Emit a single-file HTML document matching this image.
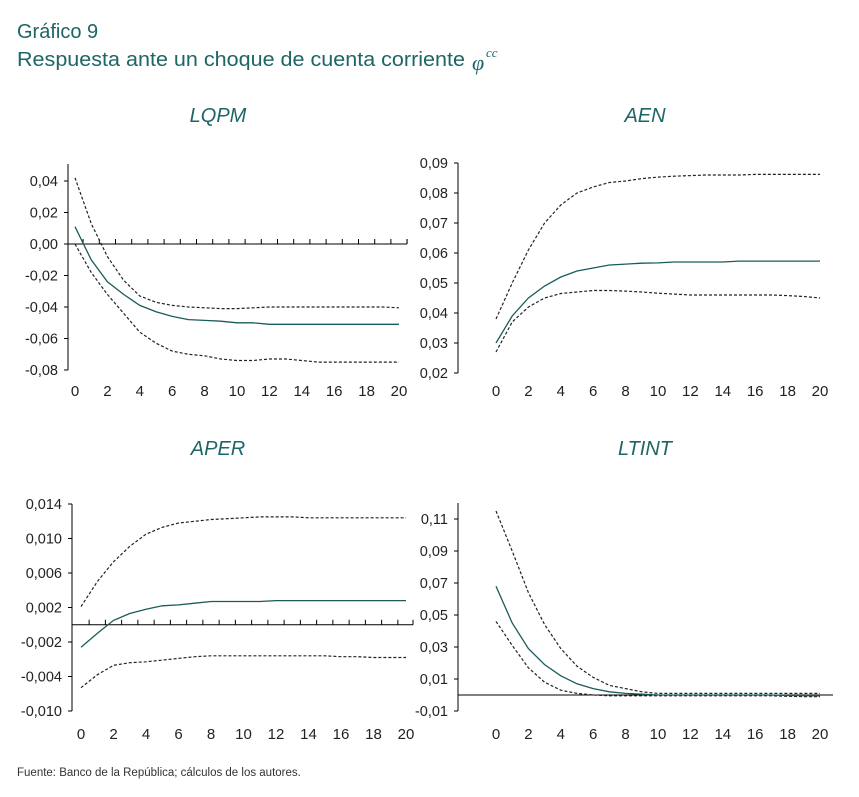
<!DOCTYPE html>
<html><head><meta charset="utf-8"><style>
html,body{margin:0;padding:0;background:#fff;}
svg{display:block;font-family:"Liberation Sans",sans-serif;}
</style></head><body>
<svg id="chart" width="859" height="797" viewBox="0 0 859 797">
<text x="17" y="38" font-size="20" fill="#1e6566">Gráfico 9</text>
<text x="17" y="66" font-size="20" fill="#1e6566" textLength="448" lengthAdjust="spacingAndGlyphs">Respuesta ante un choque de cuenta corriente</text>
<text x="472" y="70" font-size="22" font-style="italic" fill="#1e6566" font-family="Liberation Serif,serif">φ</text>
<text x="486" y="57" font-size="13" font-style="italic" fill="#1e6566" font-family="Liberation Serif,serif">cc</text>
<text x="17" y="776" font-size="11.5" fill="#333">Fuente: Banco de la República; cálculos de los autores.</text>
</svg>
<script>
const xs = [0,1,2,3,4,5,6,7,8,9,10,11,12,13,14,15,16,17,18,19,20];
const xTickLabels = ["0","2","4","6","8","10","12","14","16","18","20"];

const lqpmTicks = ["0,04","0,02","0,00","-0,02","-0,04","-0,06","-0,08"];
const lqpmTickValues = [0.04,0.02,0,-0.02,-0.04,-0.06,-0.08];
const lqpmCenter = [0.011,-0.010,-0.024,-0.032,-0.039,-0.043,-0.046,-0.048,-0.0485,-0.049,-0.050,-0.050,-0.051,-0.051,-0.051,-0.051,-0.051,-0.051,-0.051,-0.051,-0.051];
const lqpmUpper = [0.042,0.013,-0.008,-0.023,-0.033,-0.037,-0.039,-0.040,-0.0405,-0.041,-0.041,-0.0405,-0.040,-0.040,-0.040,-0.040,-0.040,-0.040,-0.040,-0.040,-0.0405];
const lqpmLower = [0.000,-0.018,-0.032,-0.044,-0.056,-0.063,-0.068,-0.070,-0.071,-0.073,-0.074,-0.074,-0.073,-0.073,-0.074,-0.075,-0.075,-0.075,-0.075,-0.075,-0.075];

const aenTicks = ["0,09","0,08","0,07","0,06","0,05","0,04","0,03","0,02"];
const aenTickValues = [0.09,0.08,0.07,0.06,0.05,0.04,0.03,0.02];
const aenCenter = [0.030,0.039,0.045,0.049,0.052,0.054,0.055,0.056,0.0563,0.0566,0.0567,0.057,0.057,0.057,0.057,0.0573,0.0573,0.0573,0.0573,0.0573,0.0573];
const aenUpper = [0.038,0.050,0.061,0.070,0.076,0.080,0.082,0.0835,0.084,0.0848,0.0853,0.0856,0.0858,0.086,0.086,0.086,0.0862,0.0862,0.0862,0.0862,0.0862];
const aenLower = [0.027,0.037,0.042,0.045,0.0465,0.047,0.0475,0.0475,0.0473,0.047,0.0466,0.0463,0.046,0.046,0.046,0.046,0.046,0.046,0.0458,0.0455,0.045];

const aperTicks = ["0,014","0,010","0,006","0,002","-0,002","-0,004","-0,010"];
const aperTickValues = [0.014,0.010,0.006,0.002,-0.002,-0.006,-0.010];
const aperCenter = [-0.0026,-0.0010,0.0005,0.0013,0.0018,0.0022,0.0023,0.0025,0.0027,0.0027,0.0027,0.0027,0.0028,0.0028,0.0028,0.0028,0.0028,0.0028,0.0028,0.0028,0.0028];
const aperUpper = [0.0021,0.0050,0.0073,0.0091,0.0105,0.0113,0.0118,0.0120,0.0122,0.0123,0.0124,0.0125,0.0125,0.0125,0.0124,0.0124,0.0124,0.0124,0.0124,0.0124,0.0124];
const aperLower = [-0.0073,-0.0058,-0.0047,-0.0044,-0.0043,-0.0041,-0.0039,-0.0037,-0.0036,-0.0036,-0.0036,-0.0036,-0.0036,-0.0036,-0.0036,-0.0036,-0.0037,-0.0037,-0.0038,-0.0038,-0.0038];

const ltintTicks = ["0,11","0,09","0,07","0,05","0,03","0,01","-0,01"];
const ltintTickValues = [0.11,0.09,0.07,0.05,0.03,0.01,-0.01];
const ltintCenter = [0.068,0.045,0.029,0.019,0.012,0.007,0.004,0.002,0.001,0.0005,0,0,0,0,0,0,0,0,-0.0003,-0.0004,-0.0005];
const ltintUpper = [0.115,0.090,0.064,0.044,0.029,0.018,0.011,0.006,0.004,0.002,0.001,0.001,0.001,0.001,0.001,0.001,0.001,0.001,0.001,0.001,0.001];
const ltintLower = [0.046,0.031,0.017,0.008,0.003,0.001,0,-0.0005,-0.0005,-0.0005,-0.0005,-0.0005,-0.0005,-0.0005,-0.0005,-0.0005,-0.0005,-0.0005,-0.0008,-0.001,-0.001];

const NS = "http://www.w3.org/2000/svg";
const svg = document.getElementById("chart");
function mk(tag, attrs, parent){const e=document.createElementNS(NS,tag);for(const k in attrs)e.setAttribute(k,attrs[k]);(parent||svg).appendChild(e);return e;}

function panel(cfg){
  const g = mk("g",{});
  
  
  const yMax = cfg.tickValues[0], yMin = cfg.tickValues[cfg.tickValues.length-1];
  const ys = v => cfg.yTop + (yMax - v)/(yMax - yMin)*(cfg.yBot - cfg.yTop);
  const xsc = v => cfg.x0 + v/20*(cfg.x20 - cfg.x0);
  const t = mk("text",{x:cfg.titleX,y:cfg.titleY,"font-size":20,"font-style":"italic",fill:"#1e6566","text-anchor":"middle"},g);
  t.textContent = cfg.title;
  
  
  const ya = mk("line",{x1:cfg.axisX,x2:cfg.axisX,y1:cfg.axisTop,y2:cfg.yBot,stroke:"#000","stroke-width":1},g);
  
  
  cfg.tickValues.forEach((v,i)=>{
    const y = ys(v);
    mk("line",{x1:cfg.axisX-4,x2:cfg.axisX,y1:y,y2:y,stroke:"#000"},g);
    const tl = mk("text",{x:cfg.axisX-10,y:y+5,"font-size":14.5,fill:"#222","text-anchor":"end"},g);
    tl.textContent = cfg.ticks[i];
    
    
  });
  if(!cfg.noZero){
    const zy = ys(0);
    const za = mk("line",{x1:cfg.axisX,x2:cfg.axisEnd,y1:zy,y2:zy,stroke:"#000","stroke-width":1},g);
    
    
    if(cfg.zeroTicks){
      for(let k=0;k<=21;k++){
        const x = xsc(k+0.5);
        if(x>cfg.axisEnd+1) break;
        mk("line",{x1:x,x2:x,y1:zy-5,y2:zy,stroke:"#000"},g);
      }
      mk("line",{x1:cfg.axisEnd,x2:cfg.axisEnd,y1:zy-5,y2:zy,stroke:"#000"},g);
    }
  }
  xTickLabels.forEach(l=>{
    const tl = mk("text",{x:xsc(+l),y:cfg.xLabY,"font-size":15,fill:"#222","text-anchor":"middle"},g);
    tl.textContent = l;
    
    
  });
  const line=(arr,dash,color,name)=>{
    const p = mk("path",{d:arr.map((v,i)=>(i?"L":"M")+xsc(xs[i]).toFixed(1)+","+ys(v).toFixed(1)).join(""),fill:"none",stroke:color,"stroke-width":dash?1.2:1.3,"stroke-dasharray":dash?"3,2":"none"},g);
    
    
  };
  line(cfg.upper,true,"#222",cfg.id+'-upper-band');
  line(cfg.lower,true,"#222",cfg.id+'-lower-band');
  line(cfg.center,false,"#1a5c5c",cfg.id+'-response-line');
}

panel({id:"lqpm",title:"LQPM",titleX:218,titleY:122,ticks:lqpmTicks,tickValues:lqpmTickValues,center:lqpmCenter,upper:lqpmUpper,lower:lqpmLower,
  yTop:181,yBot:370,axisX:68,axisTop:164,axisEnd:407,x0:75,x20:399,xLabY:396,zeroTicks:true});
panel({id:"aen",title:"AEN",titleX:645,titleY:122,ticks:aenTicks,tickValues:aenTickValues,center:aenCenter,upper:aenUpper,lower:aenLower,
  yTop:163,yBot:373,axisX:458,axisTop:163,axisEnd:458,x0:496,x20:820,xLabY:396,noZero:true});
panel({id:"aper",title:"APER",titleX:218,titleY:455,ticks:aperTicks,tickValues:aperTickValues,center:aperCenter,upper:aperUpper,lower:aperLower,
  yTop:504,yBot:711,axisX:72,axisTop:504,axisEnd:413,x0:81,x20:406,xLabY:739,zeroTicks:true});
panel({id:"ltint",title:"LTINT",titleX:645,titleY:455,ticks:ltintTicks,tickValues:ltintTickValues,center:ltintCenter,upper:ltintUpper,lower:ltintLower,
  yTop:519,yBot:711,axisX:458,axisTop:503,axisEnd:833,x0:496,x20:820,xLabY:739,zeroTicks:false});
</script>
</body></html>
